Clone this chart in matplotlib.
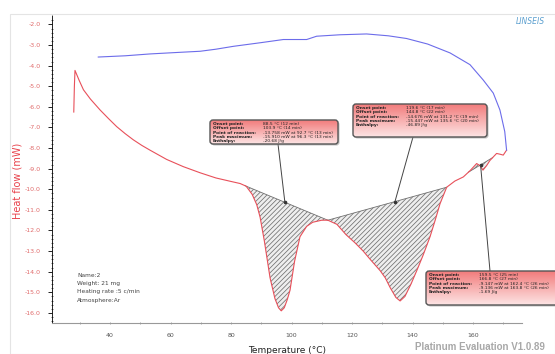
import matplotlib
matplotlib.use('Agg')
import matplotlib.pyplot as plt
import numpy as np
from matplotlib.patches import FancyBboxPatch, Rectangle

# heating curve (red)
temp_heat = [28.0, 28.2, 28.4, 29.8, 31.2, 33.5, 36.7, 39.5, 42.2, 45.0, 47.7, 50.5, 53.2,
             58.7, 64.2, 69.8, 75.0,
             80.0, 83.0, 85.0, 87.0, 88.5, 89.6, 91.0, 92.9, 94.5, 95.7, 96.6, 97.6,
             98.6, 99.5, 101.0, 102.8, 105.0, 107.0, 110.0, 112.0, 115.0, 118.0,
             121.0, 123.7, 126.0, 129.3, 131.0, 132.6, 134.5, 135.9, 137.5, 139.5,
             141.4, 143.5, 145.8, 147.5, 149.1, 151.3, 154.0, 156.8, 159.0, 161.2,
             162.3, 163.3, 164.5, 165.6, 167.8, 169.0, 170.0, 171.1]
flow_heat = [-6.25, -5.0, -4.23, -4.72, -5.17, -5.62, -6.15, -6.57, -6.96, -7.3, -7.6, -7.87, -8.1,
             -8.55, -8.9, -9.2, -9.45,
             -9.62, -9.72, -9.85, -10.25, -10.75, -11.35, -12.5, -14.3, -15.3, -15.75, -15.9, -15.75,
             -15.35, -14.9, -13.5, -12.3, -11.8, -11.6, -11.5, -11.5, -11.7, -12.2,
             -12.6, -13.0, -13.4, -13.95, -14.3, -14.77, -15.25, -15.42, -15.2, -14.6,
             -13.95, -13.2, -12.3, -11.5, -10.7, -9.9, -9.6, -9.4, -9.1, -8.75,
             -8.85, -9.07, -8.85, -8.6, -8.26, -8.3, -8.34, -8.1]

# cooling curve (blue)
temp_cool = [171.1, 170.5, 168.9, 166.7, 163.4, 159.0, 152.4, 145.0, 138.0, 132.0,
             124.8, 116.0, 108.3, 105.0, 97.3, 90.0, 80.8, 75.0, 69.8, 62.0, 53.2, 45.0, 36.1]
flow_cool = [-8.1, -7.2, -6.15, -5.33, -4.7, -3.95, -3.38, -2.95, -2.68, -2.55,
             -2.46, -2.5, -2.57, -2.73, -2.73, -2.88, -3.06, -3.2, -3.3, -3.36, -3.43, -3.52, -3.58]

# integrated peaks: baseline start / end temperatures
peak_start = [84.5, 112.0, 158.5]
peak_end = [112.0, 151.3, 166.5]
peak_mark = [97.8, 134.2, 162.5]

peak_text = [
    [("Onset point:", "88.5 °C (12 min)"),
     ("Offset point:", "103.9 °C (14 min)"),
     ("Point of reaction:", "-13.758 mW at 92.7 °C (13 min)"),
     ("Peak maximum:", "-15.910 mW at 96.3 °C (13 min)"),
     ("Enthalpy:", "-20.68 J/g")],
    [("Onset point:", "119.6 °C (17 min)"),
     ("Offset point:", "144.8 °C (22 min)"),
     ("Point of reaction:", "-14.676 mW at 131.2 °C (19 min)"),
     ("Peak maximum:", "-15.447 mW at 135.6 °C (20 min)"),
     ("Enthalpy:", "-46.89 J/g")],
    [("Onset point:", "159.5 °C (25 min)"),
     ("Offset point:", "166.8 °C (27 min)"),
     ("Point of reaction:", "-9.147 mW at 162.4 °C (26 min)"),
     ("Peak maximum:", "-9.136 mW at 163.8 °C (26 min)"),
     ("Enthalpy:", "-1.69 J/g")],
]
info_lines = ["Name:2", "Weight: 21 mg", "Heating rate :5 c/min", "Atmosphere:Ar"]

# box placement in figure pixels (x0, y0, x1, y1), and leader start
boxes = [(210, 120, 338, 144), (353, 104, 487, 137), (426, 271, 560, 305)]
leader_from = [(278, 144), (413, 137), (490, 271)]

red = '#e8505a'
blue = '#6c6cea'

fig = plt.figure(figsize=(5.55, 3.54), dpi=100)
fig.patches.append(Rectangle((10 / 555, 0), 545 / 555, 1 - 14 / 354, transform=fig.transFigure,
                             fill=False, edgecolor='#e4e4e4', linewidth=0.8))

ax = fig.add_axes([52 / 555, 1 - 323 / 354, 470 / 555, 308 / 354])
th = np.array(temp_heat)
fh = np.array(flow_heat)

# hatched peak areas
plt.rcParams['hatch.linewidth'] = 0.55
for t0, t1 in zip(peak_start, peak_end):
    y0 = np.interp(t0, th, fh)
    y1 = np.interp(t1, th, fh)
    sel = (th > t0) & (th < t1)
    tt = np.concatenate([[t0], th[sel], [t1]])
    yy = np.concatenate([[y0], fh[sel], [y1]])
    base = y0 + (y1 - y0) * (tt - t0) / (t1 - t0)
    ax.fill_between(tt, yy, base, facecolor='#eeeeee', edgecolor='#707070',
                    hatch='///////', linewidth=0)
    ax.plot([t0, t1], [y0, y1], color='#707070', linewidth=0.6)

ax.plot(temp_heat, flow_heat, color=red, linewidth=0.8)
ax.plot(temp_cool, flow_cool, color=blue, linewidth=0.8)

ax.set_xlim(20.8, 176.2)
ax.set_ylim(-16.49, -1.54)
ax.set_xticks(np.arange(40, 161, 20))
ax.set_xticks(np.arange(30, 171, 10), minor=True)
ax.set_yticks(np.arange(-16, -1.9, 1))
ax.set_yticks(np.arange(-16.4, -1.6, 0.2), minor=True)
ax.set_yticklabels(['%.1f' % v for v in np.arange(-16, -1.9, 1)])
ax.tick_params(axis='y', which='major', labelsize=4.5, labelcolor='#e06a6a',
               length=3, width=0.6, direction='out', pad=5)
ax.tick_params(axis='y', which='minor', length=1.5, width=0.4, direction='inout')
ax.tick_params(axis='x', which='major', labelsize=4.5, labelcolor='#555555',
               length=2, width=0.6, color='#999999', direction='inout', pad=6)
ax.tick_params(axis='x', which='minor', length=2, width=0.6, color='#999999', direction='inout')
for s in ['top', 'right']:
    ax.spines[s].set_visible(False)
ax.spines['left'].set_linewidth(0.6)
ax.spines['left'].set_linestyle((0, (1, 1)))
ax.spines['bottom'].set_color('#999999')
ax.spines['bottom'].set_linewidth(0.8)
ax.set_xlabel('Temperature (°C)', fontsize=6.5, color='#222222', labelpad=6)
ax.set_ylabel('Heat flow (mW)', fontsize=7, color='#e8404a')
ax.yaxis.set_label_coords(-0.062, 0.46)

for i, line in enumerate(info_lines):
    ax.text(0.053, 0.155 - i * 0.027, line, transform=ax.transAxes, fontsize=4.2,
            color='#444444', va='center')

# overlay in pixel coordinates for the result boxes
ov = fig.add_axes([0, 0, 1, 1], zorder=5)
ov.set_xlim(0, 555)
ov.set_ylim(354, 0)
ov.axis('off')

grad = np.linspace(0, 1, 64).reshape(-1, 1)
cmap = matplotlib.colors.LinearSegmentedColormap.from_list('box', ['#f27c7c', '#fde4e4'])

for k, (x0, y0, x1, y1) in enumerate(boxes):
    tm = peak_mark[k]
    ym = np.interp(tm, [peak_start[k], peak_end[k]],
                   [np.interp(peak_start[k], th, fh), np.interp(peak_end[k], th, fh)])
    ax.annotate('', xy=(tm, ym), xytext=leader_from[k], textcoords=ov.transData,
                arrowprops=dict(arrowstyle='-', color='#444444', linewidth=0.7,
                                shrinkA=0, shrinkB=0), annotation_clip=False)
    ax.plot([tm], [ym], marker='o', markersize=1.6, color='#333333')

    sh = FancyBboxPatch((x0 + 1.5, y0 + 1.5), x1 - x0, y1 - y0,
                        boxstyle='round,pad=0,rounding_size=3', facecolor='#9a9a9a',
                        edgecolor='none', alpha=0.6, clip_on=False)
    ov.add_patch(sh)
    box = FancyBboxPatch((x0, y0), x1 - x0, y1 - y0,
                         boxstyle='round,pad=0,rounding_size=3', facecolor='none',
                         edgecolor='#555555', linewidth=1.0, clip_on=False)
    ov.add_patch(box)
    im = ov.imshow(grad, extent=(x0, x1, y1, y0), aspect='auto', cmap=cmap, zorder=1)
    im.set_clip_path(box)
    box.set_zorder(2)
    for j, (lab, val) in enumerate(peak_text[k]):
        yy = y0 + 4 + j * 4.3
        ov.text(x0 + 3, yy, lab, fontsize=3.2, fontweight='bold', color='#222222',
                va='center', zorder=3)
        ov.text(x0 + 53, yy, val, fontsize=3.2, color='#222222', va='center', zorder=3)

ov.set_xlim(0, 555)
ov.set_ylim(354, 0)

fig.text(545 / 555, 1 - 22 / 354, 'LINSEIS', fontsize=5.5, fontstyle='italic',
         color='#5b9fcf', ha='right', va='center')
fig.text(545 / 555, 1 - 347 / 354, 'Platinum Evaluation V1.0.89', fontsize=7,
         fontweight='bold', family='Liberation Sans', color='#a8a8a8', ha='right', va='center')

fig.savefig('out.png', dpi=100)
